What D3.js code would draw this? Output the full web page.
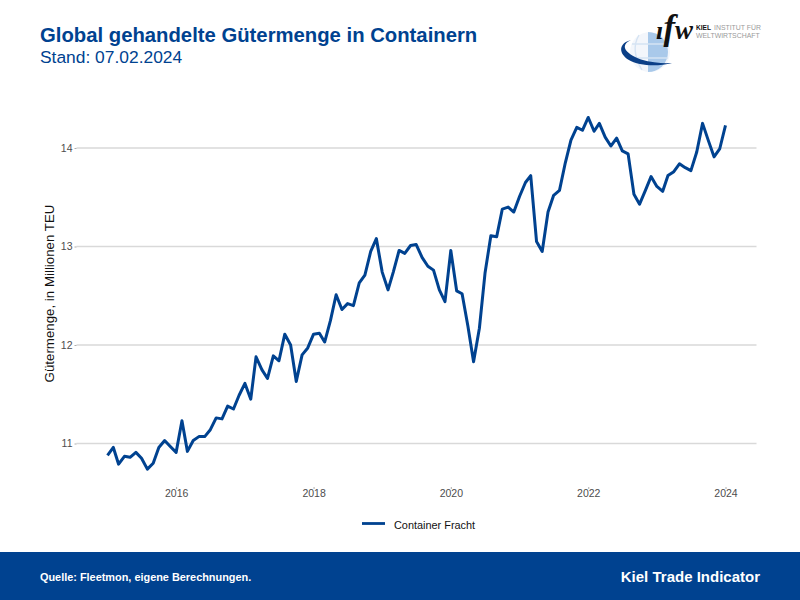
<!DOCTYPE html>
<html>
<head>
<meta charset="utf-8">
<script src="https://cdn.jsdelivr.net/npm/d3@7"></script>
<style>
html,body {margin:0;padding:0;background:#fff;}
svg {display:block;font-family:"Liberation Sans",Arial,sans-serif;}
</style>
</head>
<body>
<div id="chart"></div>
<script>
var TitleText = "Global gehandelte Gütermenge in Containern";
var SubtitleText = "Stand: 07.02.2024";
var YAxisLabel = "Gütermenge, in Millionen TEU";
var SeriesName = "Container Fracht";
var SourceText = "Quelle: Fleetmon, eigene Berechnungen.";
var BrandText = "Kiel Trade Indicator";

var StartMonth = "2015-01-01";
var EndMonth = "2024-01-01";
var YTicks = [11,12,13,14];
var XTickYears = [2016,2018,2020,2022,2024];

//Monthly values, Jan 2015 to Jan 2024
var Values = [
	10.88,10.96,10.79,10.87,10.86,10.91,10.85,10.74,10.80,10.96,11.03,10.97,
	10.91,11.23,10.92,11.03,11.07,11.07,11.14,11.26,11.25,11.38,11.35,11.49,
	11.61,11.45,11.88,11.75,11.66,11.89,11.84,12.11,12.00,11.63,11.90,11.97,
	12.11,12.12,12.03,12.25,12.51,12.36,12.42,12.40,12.63,12.71,12.95,13.08,
	12.74,12.56,12.74,12.96,12.93,13.01,13.02,12.89,12.80,12.76,12.56,12.44,
	12.96,12.55,12.52,12.19,11.83,12.17,12.73,13.11,13.10,13.38,13.40,13.35,
	13.51,13.65,13.72,13.05,12.95,13.35,13.52,13.57,13.85,14.08,14.21,14.18,
	14.31,14.17,14.25,14.11,14.02,14.10,13.97,13.94,13.53,13.43,13.57,13.71,
	13.61,13.56,13.72,13.76,13.84,13.80,13.77,13.96,14.25,14.08,13.91,13.99,
	14.23
];

var Blue = "#004290";
var Width = 800, Height = 600;
var Months = d3.utcMonths(new Date(StartMonth),d3.utcMonth.offset(new Date(EndMonth),1));

var Svg = d3.select("#chart").append("svg").attr("width",Width).attr("height",Height);

var XScale = d3.scaleUtc().domain([new Date(StartMonth),new Date(EndMonth)]).range([107.5,725.5]);
var YScale = d3.scaleLinear().domain([11,14]).range([443.5,148]);
var PanelLeft = 76.5, PanelRight = 756.5, PanelBottom = 487;

// Gridlines and ticks
Svg.append("g").selectAll("line").data(YTicks).enter().append("line")
	.attr("x1",PanelLeft).attr("x2",PanelRight)
	.attr("y1",function(d) {return YScale(d);}).attr("y2",function(d) {return YScale(d);})
	.attr("stroke","#d9d9d9").attr("stroke-width",1.4);

var YAxis = Svg.append("g").attr("transform","translate("+PanelLeft+",0)")
	.call(d3.axisLeft(YScale).tickValues(YTicks).tickFormat(d3.format("d")).tickSize(2).tickPadding(2));
var XAxis = Svg.append("g").attr("transform","translate(0,"+PanelBottom+")")
	.call(d3.axisBottom(XScale).tickValues(XTickYears.map(function(d) {return new Date(Date.UTC(d,0,1));}))
		.tickFormat(d3.utcFormat("%Y")).tickSize(2).tickPadding(1));
[YAxis,XAxis].forEach(function(Axis) {
	Axis.select(".domain").remove();
	Axis.selectAll("line").attr("stroke","#999").attr("stroke-width",0.8);
	Axis.selectAll("text").attr("fill","#4d4d4d").style("font-size","10.5px").style("font-family","'Liberation Sans',Arial,sans-serif");
});

// The series
var Line = d3.line()
	.x(function(d,i) {return XScale(Months[i]);})
	.y(function(d) {return YScale(d);});
Svg.append("path").datum(Values).attr("d",Line)
	.attr("fill","none").attr("stroke",Blue).attr("stroke-width",3).attr("stroke-linejoin","round");

// Titles
Svg.append("text").attr("x",40).attr("y",42).attr("fill",Blue).style("font-size","20.3px").style("font-weight","bold").text(TitleText);
Svg.append("text").attr("x",40).attr("y",63).attr("fill",Blue).style("font-size","17.4px").text(SubtitleText);
Svg.append("text").attr("transform","translate(54,293.5) rotate(-90)").attr("text-anchor","middle")
	.attr("fill","#111").style("font-size","13.3px").text(YAxisLabel);

// Legend
Svg.append("line").attr("x1",362).attr("x2",385).attr("y1",523.5).attr("y2",523.5).attr("stroke",Blue).attr("stroke-width",2.8);
Svg.append("text").attr("x",394).attr("y",528.5).attr("fill","#111").style("font-size","10.9px").text(SeriesName);

// Footer
Svg.append("rect").attr("x",0).attr("y",552).attr("width",Width).attr("height",48).attr("fill",Blue);
Svg.append("text").attr("x",40).attr("y",581).attr("fill","#fff").style("font-size","10.9px").style("font-weight","bold").text(SourceText);
Svg.append("text").attr("x",760).attr("y",582).attr("text-anchor","end").attr("fill","#fff").style("font-size","15px").style("font-weight","bold").text(BrandText);

// Logo
var Logo = Svg.append("g");
Logo.append("circle").attr("cx",650).attr("cy",52).attr("r",20).attr("fill","#f3f6fb");
Logo.append("path").attr("d","M648 32 A20 20 0 0 1 648 72 Z").attr("fill","#a9c9ea");
Logo.append("path").attr("d","M639 35 Q630 50 642 70 M632 44 L668 44 M632 58 L668 58").attr("fill","none").attr("stroke","#d5e3f3").attr("stroke-width",1.4);
Logo.append("path").attr("d","M631 40 C620 45 624 53 641 59.5 C652 63 664 63.5 672 63 C658 66.5 640 66.5 628 59.5 C618 52.5 619 43 631 40 Z").attr("fill","#0b3f87");
var LogoLetter = function(Letter,X,Size) {
	Logo.append("text").attr("x",X).attr("y",39).attr("fill","#111")
		.style("font-family","'Liberation Serif',serif").style("font-size",Size+"px")
		.style("font-weight","bold").style("font-style","italic").text(Letter);
};
LogoLetter("ı",656,26);
LogoLetter("f",663.5,35);
LogoLetter("w",675,27);
Logo.append("text").attr("x",696).attr("y",30).attr("fill","#111").style("font-size","6.6px").style("font-weight","bold").text("KIEL");
Logo.append("text").attr("x",714).attr("y",30).attr("fill","#9a9a9a").style("font-size","6.9px").text("INSTITUT FÜR");
Logo.append("text").attr("x",696).attr("y",37.5).attr("fill","#9a9a9a").style("font-size","6.9px").text("WELTWIRTSCHAFT");
</script>
</body>
</html>
